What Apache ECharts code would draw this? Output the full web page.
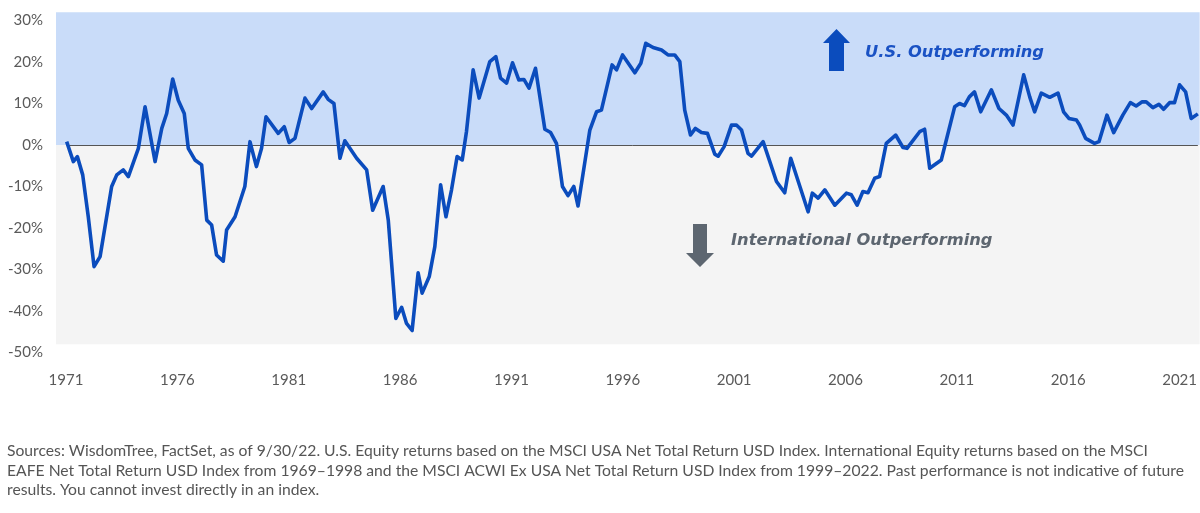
<!DOCTYPE html>
<html>
<head>
<meta charset="utf-8">
<script src="https://cdn.jsdelivr.net/npm/echarts@6/dist/echarts.min.js"></script>
<style>
  html, body { margin: 0; padding: 0; background: #fff; }
  #chart { width: 1200px; height: 513px; }
</style>
</head>
<body>
<div id="chart"></div>
<script>
// 数据：年份（小数年）与相对收益（%）
var years = [
  1971.03, 1971.33, 1971.51, 1971.75, 1972.00, 1972.26, 1972.53, 1973.05, 1973.28, 1973.57,
  1973.80, 1974.25, 1974.55, 1975.00, 1975.30, 1975.52, 1975.79, 1976.04, 1976.31, 1976.49,
  1976.79, 1977.09, 1977.32, 1977.54, 1977.76, 1978.06, 1978.21, 1978.59, 1979.03, 1979.26,
  1979.55, 1979.78, 1979.98, 1980.53, 1980.80, 1981.02, 1981.28, 1981.73, 1982.03, 1982.55,
  1982.77, 1983.03, 1983.30, 1983.52, 1984.05, 1984.50, 1984.77, 1985.24, 1985.47, 1985.81,
  1986.07, 1986.29, 1986.54, 1986.81, 1986.99, 1987.31, 1987.56, 1987.82, 1988.06, 1988.31,
  1988.56, 1988.79, 1988.98, 1989.28, 1989.55, 1990.03, 1990.30, 1990.51, 1990.78, 1991.05,
  1991.33, 1991.56, 1991.79, 1992.08, 1992.50, 1992.76, 1993.02, 1993.29, 1993.54, 1993.80,
  1993.99, 1994.52, 1994.82, 1995.04, 1995.52, 1995.72, 1995.99, 1996.54, 1996.81, 1997.03,
  1997.36, 1997.74, 1998.03, 1998.33, 1998.56, 1998.78, 1999.04, 1999.26, 1999.53, 1999.80,
  2000.13, 2000.28, 2000.55, 2000.88, 2001.10, 2001.33, 2001.62, 2001.78, 2002.30, 2002.90,
  2003.27, 2003.54, 2004.32, 2004.51, 2004.77, 2005.07, 2005.52, 2006.04, 2006.26, 2006.52,
  2006.78, 2007.01, 2007.31, 2007.53, 2007.83, 2008.25, 2008.58, 2008.76, 2009.33, 2009.55,
  2009.78, 2010.30, 2010.90, 2011.12, 2011.34, 2011.56, 2011.79, 2012.07, 2012.55, 2012.89,
  2013.22, 2013.52, 2014.00, 2014.27, 2014.49, 2014.79, 2015.17, 2015.54, 2015.79, 2016.03,
  2016.37, 2016.51, 2016.78, 2017.18, 2017.38, 2017.74, 2018.04, 2018.45, 2018.79, 2019.05,
  2019.32, 2019.50, 2019.80, 2020.07, 2020.28, 2020.55, 2020.77, 2021.00, 2021.27, 2021.52,
  2021.82
];
var values = [
  0.8, -4.0, -2.8, -7.2, -17.3, -29.3, -26.9, -10.0, -7.2, -6.0,
  -7.6, -0.8, 9.2, -4.0, 4.0, 7.6, 15.9, 10.8, 7.6, -0.8,
  -3.6, -4.8, -18.1, -19.3, -26.5, -28.0, -20.5, -17.3, -10.0, 0.8,
  -5.2, -0.8, 6.8, 2.8, 4.4, 0.6, 1.6, 11.3, 8.8, 12.8,
  11.0, 10.0, -3.2, 1.0, -3.2, -6.0, -15.7, -10.0, -18.1, -41.8,
  -39.1, -43.0, -44.7, -30.8, -35.7, -31.7, -24.5, -9.6, -17.3, -10.8,
  -2.8, -3.6, 3.2, 18.1, 11.3, 20.1, 21.3, 16.1, 14.9, 19.8,
  15.7, 15.8, 13.7, 18.5, 3.8, 3.0, 0.4, -10.0, -12.2, -10.0,
  -14.7, 3.6, 8.0, 8.4, 19.3, 18.1, 21.7, 17.4, 19.7, 24.5,
  23.5, 22.9, 21.7, 21.7, 20.1, 8.4, 2.4, 4.0, 3.0, 2.8,
  -2.2, -2.7, -0.4, 4.8, 4.8, 3.6, -2.0, -2.7, 0.8, -8.8,
  -11.5, -3.2, -16.1, -11.6, -12.8, -10.8, -14.5, -11.6, -12.0, -14.5,
  -11.2, -11.5, -8.0, -7.6, 0.4, 2.4, -0.6, -0.8, 3.2, 3.8,
  -5.6, -3.6, 9.2, 10.0, 9.5, 11.6, 12.8, 8.0, 13.3, 8.8,
  7.2, 4.8, 16.9, 11.6, 8.0, 12.5, 11.5, 12.5, 8.0, 6.4,
  6.0, 4.8, 1.6, 0.4, 0.8, 7.2, 3.0, 7.2, 10.2, 9.4,
  10.4, 10.4, 9.0, 9.8, 8.6, 10.2, 10.2, 14.5, 12.8, 6.4,
  7.5
];
var yearLabels = [1971, 1976, 1981, 1986, 1991, 1996, 2001, 2006, 2011, 2016, 2021];
var pctLabels = [-50, -40, -30, -20, -10, 0, 10, 20, 30];
var footnote = [
  "Sources: WisdomTree, FactSet, as of 9/30/22. U.S. Equity returns based on the MSCI USA Net Total Return USD Index. International Equity returns based on the MSCI",
  "EAFE Net Total Return USD Index from 1969\u20131998 and the MSCI ACWI Ex USA Net Total Return USD Index from 1999\u20132022. Past performance is not indicative of future",
  "results. You cannot invest directly in an index."
];

(function() {
  var myChart = echarts.init(document.getElementById("chart"));

  var points = years.map(function(y, i) { return [y, values[i]]; });

  var BLUE = "#0b4cbd";
  var GREY = "#5d6670";
  var textFont = "Lato, 'Noto Sans', sans-serif";
  var noteFont = "italic bold 16.3px 'DejaVu Sans', sans-serif";

  // 脚注，每行一个文本
  var graphics = footnote.map(function(line, i) {
    return {
      type: "text",
      left: 7,
      top: 443 + i * 19.5,
      z: 100,
      style: {
        text: line,
        fill: "#555",
        font: "15.7px " + textFont
      }
    };
  });

  // 箭头和注释文字
  graphics.push(
    {
      type: "polygon",
      z: 100,
      shape: { points: [[836.5, 29], [850, 43], [844, 43], [844, 71], [829, 71], [829, 43], [823, 43]] },
      style: { fill: BLUE }
    },
    {
      type: "text",
      left: 865,
      top: 45,
      z: 100,
      style: {
        text: "U.S. Outperforming",
        fill: "#1a52c4",
        font: noteFont
      }
    },
    {
      type: "polygon",
      z: 100,
      shape: { points: [[693, 224], [707, 224], [707, 253], [714, 253], [700, 267], [686, 253], [693, 253]] },
      style: { fill: GREY }
    },
    {
      type: "text",
      left: 731,
      top: 233,
      z: 100,
      style: {
        text: "International Outperforming",
        fill: GREY,
        font: noteFont
      }
    }
  );

  var option = {
    animation: false,
    grid: {
      left: 56,
      right: 0,
      top: 12.2,
      height: 340.3
    },
    xAxis: {
      type: "value",
      min: 1970.551,
      max: 2021.9,
      axisLine: { show: false },
      axisTick: { show: false },
      splitLine: { show: false },
      axisLabel: {
        customValues: yearLabels,
        formatter: function(v) { return String(v); },
        color: "#5a5a5a",
        fontSize: 15,
        fontFamily: textFont,
        margin: 20
      }
    },
    yAxis: {
      type: "value",
      min: -50,
      max: 32,
      axisLine: { show: false },
      axisTick: { show: false },
      splitLine: { show: false },
      axisLabel: {
        customValues: pctLabels,
        formatter: "{value}%",
        color: "#5a5a5a",
        fontSize: 15,
        fontFamily: textFont,
        margin: 13
      }
    },
    series: [
      {
        type: "line",
        data: points,
        symbol: "none",
        z: 5,
        lineStyle: { color: BLUE, width: 3.6, join: "round" },
        markArea: {
          silent: true,
          data: [
            [{ yAxis: 0, itemStyle: { color: "#c9dcf9" } }, { yAxis: 32 }],
            [{ yAxis: -48, itemStyle: { color: "#f4f4f4" } }, { yAxis: 0 }]
          ]
        },
        markLine: {
          silent: true,
          symbol: "none",
          label: { show: false },
          lineStyle: { color: "#555", width: 1, type: "solid" },
          data: [[{ coord: [years[0], 0] }, { coord: [years[years.length - 1], 0] }]]
        }
      }
    ],
    graphic: graphics
  };

  myChart.setOption(option);
  window.addEventListener("resize", function() {
    myChart.resize();
  });
})();
</script>
</body>
</html>
